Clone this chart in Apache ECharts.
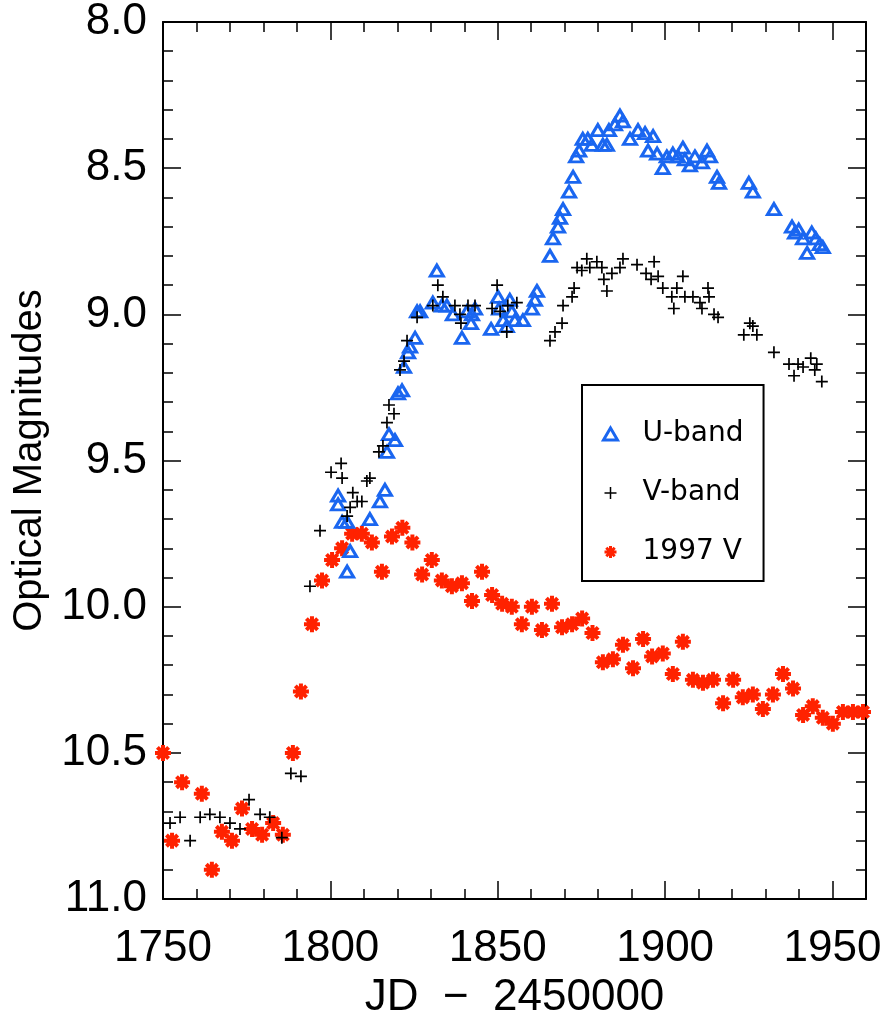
<!DOCTYPE html>
<html>
<head>
<meta charset="utf-8">
<script src="https://cdn.jsdelivr.net/npm/echarts@6/dist/echarts.min.js"></script>
<style>
  html, body { margin: 0; background: #fff; }
  #chart { width: 888px; height: 1025px; }
</style>
</head>
<body>
<div id="chart"></div>
<script>
// JD - 2450000 and magnitudes
const uBandJd = [1802.3, 1802.3, 1803.5, 1805.0, 1805.9, 1805.0, 1811.8, 1814.8, 1816.3, 1816.9,
  1817.5, 1819.3, 1820.2, 1821.4, 1822.0, 1823.2, 1823.8, 1825.3, 1825.9, 1826.8,
  1830.6, 1831.8, 1833.3, 1834.8, 1836.6, 1839.3, 1840.8, 1842.3, 1843.2, 1842.0,
  1848.0, 1850.1, 1850.4, 1851.6, 1852.7, 1853.6, 1854.2, 1855.1, 1857.5, 1860.2,
  1861.1, 1861.7, 1865.6, 1866.5, 1868.0, 1868.6, 1869.5, 1871.3, 1872.5, 1873.4,
  1874.3, 1875.4, 1876.9, 1878.1, 1879.9, 1881.4, 1882.6, 1883.2, 1885.0, 1886.5,
  1887.4, 1889.5, 1891.9, 1894.0, 1894.9, 1896.4, 1897.6, 1899.3, 1900.5, 1902.3,
  1903.8, 1905.3, 1905.9, 1907.4, 1908.9, 1911.0, 1912.5, 1913.4, 1915.5, 1916.1,
  1925.0, 1926.2, 1932.5, 1937.9, 1938.8, 1939.9, 1941.2, 1942.4, 1943.8, 1945.0,
  1946.2, 1947.1]
const uBandMag = [9.62, 9.65, 9.71, 9.71, 9.81, 9.88, 9.70, 9.64, 9.60, 9.47,
  9.41, 9.43, 9.27, 9.26, 9.18, 9.13, 9.11, 9.08, 8.99, 8.99,
  8.96, 8.85, 8.97, 8.97, 9.00, 9.08, 8.99, 9.00, 8.98, 9.03,
  9.05, 8.94, 8.98, 9.02, 9.04, 8.95, 8.99, 9.02, 9.02, 8.98,
  8.95, 8.92, 8.80, 8.74, 8.70, 8.67, 8.64, 8.58, 8.53, 8.46,
  8.44, 8.40, 8.40, 8.42, 8.37, 8.42, 8.42, 8.37, 8.35, 8.32,
  8.34, 8.40, 8.37, 8.38, 8.44, 8.39, 8.45, 8.50, 8.46, 8.45,
  8.46, 8.43, 8.47, 8.49, 8.46, 8.48, 8.44, 8.46, 8.53, 8.55,
  8.55, 8.58, 8.64, 8.70, 8.72, 8.71, 8.74, 8.79, 8.72, 8.74,
  8.76, 8.77]

const vBandJd = [1752.1, 1755.1, 1758.1, 1761.1, 1764.0, 1767.0, 1770.0, 1773.0, 1775.7, 1779.0,
  1781.9, 1785.5, 1788.2, 1791.2, 1793.9, 1796.9, 1800.2, 1803.2, 1803.5, 1805.0,
  1805.9, 1806.7, 1808.0, 1809.4, 1810.9, 1811.8, 1814.5, 1815.7, 1816.9, 1817.5,
  1819.0, 1820.8, 1822.0, 1822.9, 1825.9, 1830.6, 1832.1, 1833.6, 1837.2, 1838.7,
  1839.0, 1841.1, 1843.2, 1848.3, 1849.8, 1850.7, 1852.7, 1853.0, 1855.7, 1865.6,
  1867.1, 1869.2, 1869.5, 1872.2, 1872.8, 1873.7, 1875.1, 1876.6, 1877.5, 1879.6,
  1881.1, 1881.7, 1882.6, 1884.1, 1886.5, 1887.4, 1891.6, 1894.3, 1895.8, 1896.7,
  1897.9, 1899.3, 1902.0, 1902.6, 1903.5, 1905.3, 1905.9, 1908.3, 1910.4, 1911.0,
  1912.8, 1913.1, 1914.6, 1915.8, 1923.5, 1925.3, 1926.2, 1927.4, 1932.5, 1937.0,
  1938.5, 1939.7, 1941.2, 1943.5, 1944.7, 1945.3, 1946.8]
const vBandMag = [10.74, 10.72, 10.80, 10.72, 10.71, 10.72, 10.74, 10.76, 10.66, 10.71,
  10.72, 10.79, 10.57, 10.58, 9.93, 9.74, 9.54, 9.51, 9.56, 9.69,
  9.66, 9.61, 9.64, 9.64, 9.57, 9.56, 9.47, 9.45, 9.37, 9.31,
  9.34, 9.19, 9.16, 9.09, 9.01, 8.97, 8.90, 8.94, 8.97, 9.00,
  9.03, 8.97, 8.97, 8.98, 8.90, 8.99, 9.06, 8.97, 8.96, 9.09,
  9.06, 9.03, 8.97, 8.94, 8.91, 8.84, 8.85, 8.81, 8.84, 8.82,
  8.84, 8.88, 8.92, 8.86, 8.84, 8.81, 8.83, 8.86, 8.88, 8.82,
  8.87, 8.91, 8.94, 8.98, 8.91, 8.87, 8.94, 8.94, 8.96, 8.98,
  8.91, 8.94, 9.00, 9.01, 9.07, 9.03, 9.04, 9.07, 9.13, 9.17,
  9.21, 9.17, 9.18, 9.15, 9.19, 9.17, 9.23]

const v1997Jd = [1750.0, 1752.7, 1755.7, 1761.6, 1764.6, 1767.6, 1770.6, 1773.6, 1776.6, 1779.6,
  1782.9, 1785.8, 1788.8, 1791.2, 1794.5, 1797.5, 1800.5, 1803.5, 1806.5, 1809.4,
  1812.4, 1815.4, 1818.4, 1821.5, 1824.5, 1827.4, 1830.3, 1833.3, 1836.3, 1839.3,
  1842.3, 1845.3, 1848.3, 1851.3, 1854.2, 1857.2, 1860.2, 1863.2, 1866.2, 1869.2,
  1872.2, 1875.2, 1878.3, 1881.4, 1884.4, 1887.4, 1890.4, 1893.4, 1896.1, 1899.3,
  1902.3, 1905.3, 1908.3, 1911.3, 1914.3, 1917.3, 1920.3, 1923.2, 1926.2, 1929.2,
  1932.2, 1935.2, 1938.2, 1941.2, 1944.1, 1947.1, 1950.1, 1953.1, 1956.1, 1959.1]
const v1997Mag = [10.50, 10.80, 10.60, 10.64, 10.90, 10.77, 10.80, 10.69, 10.76, 10.78,
  10.74, 10.78, 10.50, 10.29, 10.06, 9.91, 9.84, 9.80, 9.75, 9.75,
  9.78, 9.88, 9.76, 9.73, 9.78, 9.89, 9.84, 9.91, 9.93, 9.92,
  9.98, 9.88, 9.96, 9.99, 10.00, 10.06, 10.00, 10.08, 9.99, 10.07,
  10.06, 10.04, 10.09, 10.19, 10.18, 10.13, 10.21, 10.11, 10.17, 10.16,
  10.23, 10.12, 10.25, 10.26, 10.25, 10.33, 10.25, 10.31, 10.30, 10.35,
  10.30, 10.23, 10.28, 10.37, 10.34, 10.38, 10.40, 10.36, 10.36, 10.36]

const seriesNames = ['U-band', 'V-band', '1997 V']

const zip = (xs, ys) => xs.map((x, i) => [x, ys[i]])

const PLUS = 'path://M0,5L10,5M5,0L5,10'
const STAR = 'path://M0,5L10,5M5,0L5,10M1.5,1.5L8.5,8.5M1.5,8.5L8.5,1.5'
const BLUE = '#1a66f0'
const RED = '#ff2200'
const font = 'Liberation Sans'

const chart = echarts.init(document.getElementById('chart'))

const frameAxis = {
  axisLine: { show: true, lineStyle: { color: '#000', width: 2 } },
  axisTick: { show: true, inside: true, length: 18, lineStyle: { color: '#000', width: 1.5 } },
  minorTick: { show: true, splitNumber: 5, length: 10, lineStyle: { color: '#000', width: 1.5 } },
  splitLine: { show: false },
}

const option = {
  animation: false,
  backgroundColor: '#fff',
  grid: { left: 163, right: 22, top: 11, bottom: 117 },
  legend: {
    orient: 'vertical',
    left: 582,
    top: 385,
    selectedMode: false,
    padding: [35, 20, 15, 20],
    itemGap: 31,
    itemWidth: 14,
    itemHeight: 12,
    borderColor: '#000',
    borderWidth: 2,
    textStyle: { fontFamily: 'DejaVu Sans', fontSize: 28, color: '#000', padding: [0, 0, 0, 20] },
    data: [
      { name: seriesNames[0], itemStyle: { color: 'transparent', borderColor: BLUE, borderWidth: 3 } },
      { name: seriesNames[1], itemStyle: { borderColor: '#000', borderWidth: 1.5 } },
      { name: seriesNames[2], itemStyle: { borderColor: RED, borderWidth: 3 } },
    ],
  },
  xAxis: [
    {
      ...frameAxis,
      type: 'value',
      min: 1750,
      max: 1960,
      interval: 50,
      name: 'JD  \u2212  2450000',
      nameLocation: 'middle',
      nameGap: 76,
      nameTextStyle: { fontFamily: font, fontSize: 44, color: '#000' },
      axisLabel: { margin: 28, fontFamily: font, fontSize: 44, color: '#000', formatter: (v) => String(v) },
    },
    {
      ...frameAxis,
      type: 'value',
      position: 'top',
      min: 1750,
      max: 1960,
      interval: 50,
      axisLabel: { show: false },
    },
  ],
  yAxis: [
    {
      ...frameAxis,
      type: 'value',
      inverse: true,
      min: 8,
      max: 11,
      interval: 0.5,
      name: 'Optical Magnitudes',
      nameLocation: 'middle',
      nameGap: 104,
      nameTextStyle: { fontFamily: font, fontSize: 40, color: '#000' },
      axisLabel: {
        margin: 16,
        fontFamily: font,
        fontSize: 44,
        color: '#000',
        formatter: (v) => v.toFixed(1),
      },
    },
    {
      ...frameAxis,
      type: 'value',
      position: 'right',
      inverse: true,
      min: 8,
      max: 11,
      interval: 0.5,
      axisLabel: { show: false },
    },
  ],
  series: [
    {
      name: seriesNames[0],
      type: 'scatter',
      data: zip(uBandJd, uBandMag),
      symbol: 'triangle',
      symbolSize: [13, 11],
      itemStyle: { color: 'transparent', borderColor: BLUE, borderWidth: 3, opacity: 1 },
      z: 3,
    },
    {
      name: seriesNames[1],
      type: 'scatter',
      data: zip(vBandJd, vBandMag),
      symbol: PLUS,
      symbolSize: 12,
      itemStyle: { color: '#000', borderColor: '#000', borderWidth: 1.7, opacity: 1 },
      z: 4,
    },
    {
      name: seriesNames[2],
      type: 'scatter',
      data: zip(v1997Jd, v1997Mag),
      symbol: STAR,
      symbolSize: 16,
      itemStyle: { color: RED, borderColor: RED, borderWidth: 4, opacity: 1 },
      z: 2,
    },
  ],
}

chart.setOption(option)
</script>
</body>
</html>
